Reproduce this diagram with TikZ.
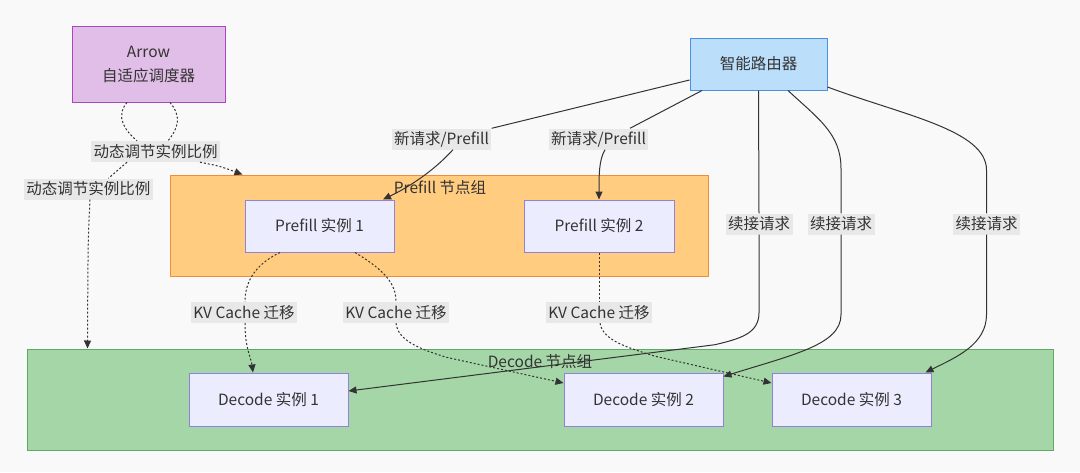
\documentclass[tikz,border=0pt]{standalone}
\usepackage{fontspec}
\setmainfont{Noto Sans CJK SC}
\usetikzlibrary{arrows.meta}
\definecolor{bg}{RGB}{249,249,250}
\definecolor{txt}{RGB}{51,51,51}
\definecolor{arwfill}{RGB}{225,190,231}
\definecolor{arwstroke}{RGB}{171,71,188}
\definecolor{rtfill}{RGB}{187,222,251}
\definecolor{rtstroke}{RGB}{74,144,226}
\definecolor{pgfill}{RGB}{255,204,128}
\definecolor{pgstroke}{RGB}{240,140,60}
\definecolor{dgfill}{RGB}{165,214,167}
\definecolor{dgstroke}{RGB}{96,170,100}
\definecolor{instfill}{RGB}{236,236,255}
\definecolor{inststroke}{RGB}{147,128,219}
\definecolor{lblbg}{RGB}{232,232,232}
\definecolor{edgec}{RGB}{51,51,51}
\newcommand{\fs}{\fontsize{15.5pt}{24pt}\selectfont}
\tikzset{
  box/.style={draw, line width=1pt, inner sep=0pt, font=\fs, text=txt, align=center},
  inst/.style={box, fill=instfill, draw=inststroke, minimum height=53pt},
  grp/.style={draw, line width=1pt},
  grplabel/.style={font=\fs, text=txt, inner sep=0pt},
  elabel/.style={fill=lblbg, inner xsep=2.5pt, inner ysep=0pt, minimum height=21pt, font=\fs, text=txt},
  solidedge/.style={draw=edgec, line width=1pt},
  dotedge/.style={draw=edgec, line width=1pt, dash pattern=on 2pt off 2pt},
  tip/.style={-{Triangle[length=8pt,width=7pt]}},
}
\begin{document}
\begin{tikzpicture}[x=1pt,y=-1pt]
  \fill[bg] (0,0) rectangle (1080,472);
  \useasboundingbox (0,0) rectangle (1080,472);

  % groups
  \node[grp, fill=pgfill, draw=pgstroke, minimum width=538pt, minimum height=101pt, inner sep=0pt] (pg) at (439,225.5) {};
  \node[grp, fill=dgfill, draw=dgstroke, minimum width=1026pt, minimum height=101pt, inner sep=0pt] (dg) at (540,399.5) {};
  \node[grplabel] (pgl) at (440,187.5) {Prefill 节点组};
  \node[grplabel] (dgl) at (540,361.5) {Decode 节点组};

  % nodes
  \node[box, fill=arwfill, draw=arwstroke, minimum width=153pt, minimum height=76pt] (arw) at (148.5,64) {\raisebox{-2pt}{Arrow}\\\raisebox{-2pt}{自适应调度器}};
  \node[box, fill=rtfill, draw=rtstroke, minimum width=137pt, minimum height=52pt] (rt) at (758.5,64) {智能路由器};
  \node[inst, minimum width=149pt, minimum height=52pt] (p1) at (319.5,226) {Prefill 实例 1};
  \node[inst, minimum width=150pt, minimum height=52pt] (p2) at (599,226) {Prefill 实例 2};
  \node[inst, minimum width=159pt] (d1) at (268.5,399.5) {Decode 实例 1};
  \node[inst, minimum width=159pt] (d2) at (643.5,399.5) {Decode 实例 2};
  \node[inst, minimum width=159pt] (d3) at (851.5,399.5) {Decode 实例 3};

  % edge labels
  \node[elabel] (l1) at (155.5,151.5) {动态调节实例比例};
  \node[elabel] (l2) at (88.5,189) {动态调节实例比例};
  \node[elabel] (l3) at (441.5,139) {新请求/Prefill};
  \node[elabel] (l4) at (598.5,139) {新请求/Prefill};
  \node[elabel] (l5) at (759,224) {续接请求};
  \node[elabel] (l6) at (841,224) {续接请求};
  \node[elabel] (l7) at (986.5,224) {续接请求};
  \node[elabel] (l8) at (244,312.5) {KV Cache 迁移};
  \node[elabel] (l9) at (396,312.5) {KV Cache 迁移};
  \node[elabel] (l10) at (599,312.5) {KV Cache 迁移};

  % Arrow -> Prefill group
  \draw[dotedge] ([xshift=21.5pt]arw.south) .. controls +(12,14) and +(10,-12) .. ([xshift=12.5pt]l1.north);
  \draw[dotedge, tip] ([xshift=44.5pt]l1.south) .. controls +(20,4) .. ([xshift=73pt]pg.north west);
  % Arrow -> Decode group
  \draw[dotedge] ([xshift=-21.5pt]arw.south) .. controls +(-12,14) and +(-12,-10) .. ([xshift=-18.5pt]l1.north);
  \draw[dotedge] ([xshift=-28.5pt]l1.south) -- ([xshift=20pt]l2.north);
  \draw[dotedge, tip] ([xshift=1.5pt]l2.south) .. controls +(-2,40) .. ([xshift=61pt]dg.north west);

  % Router -> Prefill 1
  \draw[solidedge] ([yshift=-16pt]rt.west) .. controls +(-90,22) .. (l3.north east);
  \draw[solidedge, tip] ([xshift=11.5pt]l3.south) .. controls +(-20,22) and +(25,-12) .. ([xshift=63.5pt]p1.north);
  % Router -> Prefill 2
  \draw[solidedge] ([xshift=-56.5pt]rt.south) -- ([xshift=31.5pt]l4.north);
  \draw[solidedge, tip] ([xshift=6.5pt]l4.south) .. controls +(-6,10) and +(0,-25) .. (p2.north);
  % Router -> Decode 1
  \draw[solidedge] (rt.south) -- (l5.north);
  \draw[solidedge, tip] (l5.south) -- ++(0,78) .. controls +(0,21) and +(25,-6) .. ++(-44,32) -- ([yshift=8.5pt]d1.east);
  % Router -> Decode 2
  \draw[solidedge] ([xshift=29.5pt]rt.south) .. controls +(30,28) and +(0,-35) .. ++(53,78) -- (l6.north);
  \draw[solidedge, tip] (l6.south) -- ++(0,80) .. controls +(0,30) and +(70,-22) .. ([yshift=-4pt]d2.north east);
  % Router -> Decode 3
  \draw[solidedge] ([yshift=-23pt]rt.east) .. controls +(75,28) and +(0,-40) .. ++(159,83) -- (l7.north);
  \draw[solidedge, tip] (l7.south) -- ++(0,80) .. controls +(0,30) and +(30,-15) .. ([xshift=-6pt]d3.north east);

  % KV cache migrations
  \draw[dotedge] ([xshift=-39.5pt]p1.south) .. controls +(-25,12) and +(0,-20) .. ([xshift=1pt]l8.north);
  \draw[dotedge, tip] ([xshift=1pt]l8.south) .. controls +(0,25) and +(-2,-15) .. ([xshift=-15.5pt]d1.north);
  \draw[dotedge] ([xshift=35.5pt]p1.south) .. controls +(30,18) and +(0,-18) .. (l9.north);
  \draw[dotedge, tip] (l9.south) .. controls +(2,18) and +(-25,-8) .. ++(50,34) -- ([yshift=16.5pt]d2.west);
  \draw[dotedge] (p2.south) -- (l10.north);
  \draw[dotedge, tip] ([xshift=1pt]l10.south) .. controls +(3,18) and +(-25,-8) .. ++(55,33) -- ([yshift=16.5pt]d3.west);
\end{tikzpicture}
\end{document}
